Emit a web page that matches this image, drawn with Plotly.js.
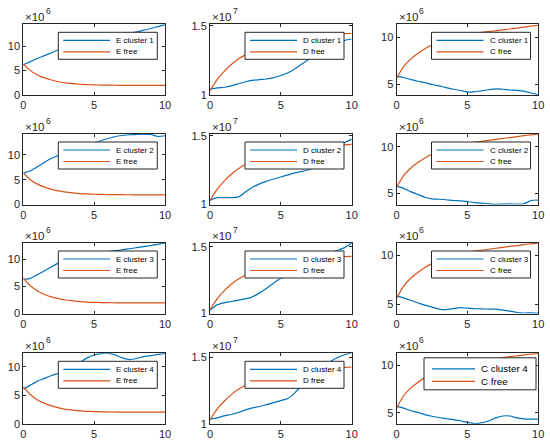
<!DOCTYPE html>
<html>
<head>
<meta charset="utf-8">
<script src="https://cdn.plot.ly/plotly-3.0.1.min.js"></script>
<style>
body { margin: 0; background: #fff; }
#plot { width: 550px; height: 446px; }
</style>
</head>
<body>
<div id="plot"></div>
<script>
// time axis shared by every panel
var t = [0,0.5,1,1.5,2,2.5,3,3.5,4,4.5,5,5.5,6,6.5,7,7.5,8,8.5,9,9.5,10];

// column 1, E (x10^6)
var eClus1 = [6.2,6.85,7.5,8.1,8.7,9.3,9.65,10.0,10.35,10.7,11.0,11.35,11.7,12.0,12.35,12.7,13.0,13.35,13.7,14.1,14.5];
var eClus2 = [6.3,6.8,7.6,8.5,9.3,9.9,10.4,10.9,11.4,11.9,12.4,12.9,13.3,13.7,13.9,14.05,14.1,14.15,14.1,13.7,13.85];
var eClus3 = [6.3,6.45,7.15,7.85,8.6,9.3,9.8,10.2,10.5,10.75,11.0,11.2,11.4,11.55,11.7,11.9,12.1,12.3,12.5,12.7,12.96];
var eClus4 = [6.1,6.8,7.5,8.0,8.5,8.9,9.4,10.0,10.8,11.6,12.1,12.35,12.4,12.1,11.6,11.3,11.5,11.8,12.0,12.2,12.4];
var eFree1 = [6.4,5.0,4.1,3.5,3.05,2.7,2.45,2.3,2.18,2.1,2.05,2.01,1.99,1.97,1.96,1.95,1.95,1.95,1.95,1.95,1.95];
var eFree2 = [6.35,5.0,4.1,3.5,3.05,2.75,2.5,2.33,2.2,2.12,2.06,2.02,2.0,1.98,1.97,1.96,1.95,1.95,1.95,1.95,1.95];
var eFree3 = [6.5,5.1,4.15,3.5,3.05,2.72,2.48,2.31,2.19,2.1,2.05,2.01,1.99,1.97,1.96,1.95,1.95,1.95,1.95,1.95,1.95];
var eFree4 = [6.5,5.15,4.2,3.6,3.15,2.8,2.55,2.4,2.28,2.2,2.15,2.11,2.09,2.07,2.06,2.05,2.05,2.05,2.05,2.05,2.05];

// column 2, D (x10^7)
var dClus1 = [1.04,1.05,1.055,1.065,1.08,1.095,1.105,1.11,1.115,1.125,1.14,1.16,1.19,1.225,1.26,1.295,1.33,1.36,1.38,1.395,1.405];
var dClus2 = [1.03,1.05,1.05,1.05,1.055,1.09,1.125,1.15,1.17,1.185,1.2,1.215,1.23,1.24,1.255,1.27,1.3,1.35,1.41,1.45,1.475];
var dClus3 = [1.025,1.065,1.08,1.09,1.1,1.11,1.125,1.155,1.19,1.23,1.265,1.285,1.31,1.34,1.37,1.4,1.43,1.455,1.475,1.495,1.53];
var dClus4 = [1.035,1.045,1.06,1.07,1.085,1.105,1.12,1.13,1.145,1.16,1.175,1.19,1.235,1.29,1.34,1.39,1.43,1.47,1.5,1.52,1.535];
var dFree1 = [1.03,1.11,1.17,1.22,1.26,1.29,1.315,1.335,1.35,1.365,1.378,1.39,1.40,1.408,1.415,1.422,1.43,1.435,1.44,1.444,1.447];
var dFree2 = [1.03,1.11,1.17,1.22,1.26,1.29,1.312,1.332,1.347,1.36,1.372,1.382,1.39,1.398,1.405,1.412,1.418,1.424,1.429,1.433,1.437];
var dFree3 = [1.03,1.11,1.17,1.22,1.26,1.288,1.31,1.33,1.345,1.357,1.368,1.378,1.386,1.394,1.401,1.407,1.413,1.418,1.423,1.427,1.43];
var dFree4 = [1.03,1.11,1.17,1.22,1.26,1.288,1.31,1.33,1.345,1.357,1.368,1.378,1.386,1.394,1.401,1.407,1.412,1.417,1.421,1.425,1.428];

// column 3, C (x10^6)
var cClus1 = [5.9,5.75,5.55,5.35,5.2,5.0,4.85,4.68,4.5,4.37,4.22,4.22,4.33,4.45,4.55,4.5,4.42,4.38,4.3,4.1,3.92];
var cClus2 = [5.78,5.55,5.2,4.9,4.6,4.42,4.38,4.33,4.25,4.2,4.12,4.03,3.97,3.88,3.84,3.86,3.88,3.87,3.9,4.25,4.3];
var cClus3 = [5.82,5.65,5.4,5.15,4.9,4.7,4.5,4.45,4.55,4.65,4.6,4.55,4.52,4.5,4.5,4.4,4.3,4.15,4.1,4.12,4.08];
var cClus4 = [5.72,5.5,5.25,5.05,4.82,4.65,4.52,4.4,4.3,4.18,4.0,3.88,3.95,4.15,4.48,4.68,4.68,4.48,4.38,4.35,4.35];
var cFree1 = [5.65,6.9,7.7,8.3,8.8,9.2,9.5,9.8,10.0,10.2,10.35,10.45,10.55,10.62,10.7,10.8,10.9,11.0,11.1,11.2,11.3];
var cFree2 = [5.64,6.9,7.7,8.3,8.8,9.2,9.5,9.8,10.0,10.2,10.35,10.47,10.58,10.68,10.78,10.88,10.98,11.08,11.18,11.27,11.36];
var cFree3 = [5.58,6.85,7.65,8.25,8.75,9.15,9.45,9.75,9.95,10.15,10.3,10.42,10.52,10.62,10.72,10.82,10.92,11.0,11.1,11.18,11.26];
var cFree4 = [5.47,6.8,7.6,8.2,8.7,9.1,9.42,9.72,9.93,10.13,10.28,10.4,10.5,10.6,10.7,10.8,10.9,10.98,11.08,11.17,11.25];

// tick labels
var xTicks = [0, 5, 10];
var eTicks = [0, 5, 10];
var dTicks = [1, 1.5];
var cTicks = [5, 10];

var letters = ['E', 'D', 'C'];
var exponents = ['6', '7', '6'];
var clusters = [[eClus1, eClus2, eClus3, eClus4], [dClus1, dClus2, dClus3, dClus4], [cClus1, cClus2, cClus3, cClus4]];
var frees = [[eFree1, eFree2, eFree3, eFree4], [dFree1, dFree2, dFree3, dFree4], [cFree1, cFree2, cFree3, cFree4]];
var yTicks = [eTicks, dTicks, cTicks];

// y limits per panel [col][row]
var yRanges = [
	[[0, 14.57], [0, 14.2], [0, 12.96], [0, 12.4]],
	[[1, 1.512], [1, 1.512], [1, 1.53], [1, 1.531]],
	[[3.91, 11.4], [3.82, 11.36], [4.05, 11.26], [3.86, 11.25]]
];

// pixel layout of the MATLAB figure
var W = 550, H = 446;
var colLeft = [23.3, 210, 396.5];
var colWidth = 141.7;
var rowTop = [24.3, 134, 243, 353.3];
var rowHeight = 70.5;

var blue = '#0072BD';
var orange = '#D95319';
var axisColor = '#262626';
var fontFam = 'Liberation Sans, Arial, sans-serif';

var data = [];
var layout = {
	width: W,
	height: H,
	margin: {l: 0, r: 0, t: 0, b: 0},
	paper_bgcolor: '#ffffff',
	plot_bgcolor: '#ffffff',
	showlegend: false,
	font: {family: fontFam, size: 11, color: axisColor},
	annotations: [],
	shapes: []
};

// legend box drawn like MATLAB's (offsets in px inside each axes)
function addLegend(sfx, names, big) {
	var xr = 'x' + sfx + ' domain', yr = 'y' + sfx + ' domain';
	var box = big ? {l: 27.5, r: 139.5, t: 4.5, h: 32, l0: 8, l1: 51, tx: 55, r1: 11, r2: 23.5, fs: 9.8}
	              : {l: 35, r: 134, t: 8, h: 27, l0: 5, l1: 52, tx: 56, r1: 8, r2: 19.5, fs: 8};
	var fx = function (px) { return px / colWidth; };
	var fy = function (px) { return 1 - px / rowHeight; };
	layout.shapes.push({
		type: 'rect', xref: xr, yref: yr,
		x0: fx(box.l), x1: fx(box.r), y0: fy(box.t + box.h), y1: fy(box.t),
		fillcolor: '#ffffff', line: {color: axisColor, width: 1}, layer: 'above'
	});
	var rows = [box.r1, box.r2];
	var cols = [blue, orange];
	for (var i = 0; i < 2; i++) {
		layout.shapes.push({
			type: 'line', xref: xr, yref: yr,
			x0: fx(box.l + box.l0), x1: fx(box.l + box.l1),
			y0: fy(box.t + rows[i]), y1: fy(box.t + rows[i]),
			line: {color: cols[i], width: 1.2}, layer: 'above'
		});
		layout.annotations.push({
			xref: xr, yref: yr,
			x: fx(box.l + box.tx), y: fy(box.t + rows[i]),
			xanchor: 'left', yanchor: 'middle',
			text: names[i], showarrow: false,
			font: {family: fontFam, size: box.fs, color: '#000000'}
		});
	}
}

for (var r = 0; r < 4; r++) {
	for (var c = 0; c < 3; c++) {
		var k = r * 3 + c + 1;
		var sfx = k > 1 ? String(k) : '';
		var big = (r === 3 && c === 2);
		var nameC = letters[c] + ' cluster ' + (r + 1);
		var nameF = letters[c] + ' free';

		data.push({
			x: t, y: clusters[c][r],
			xaxis: 'x' + sfx, yaxis: 'y' + sfx,
			name: nameC,
			mode: 'lines',
			line: {color: blue, width: 1.2, shape: 'spline', smoothing: 0.6}
		});
		data.push({
			x: t, y: frees[c][r],
			xaxis: 'x' + sfx, yaxis: 'y' + sfx,
			name: nameF,
			mode: 'lines',
			line: {color: orange, width: 1.2, shape: 'spline', smoothing: 0.6}
		});

		var axBase = {
			showline: true,
			mirror: 'ticks',
			linecolor: axisColor,
			linewidth: 1,
			ticks: 'inside',
			ticklen: 3,
			tickwidth: 1,
			tickcolor: axisColor,
			showgrid: false,
			zeroline: false,
			tickfont: {family: fontFam, size: 11, color: axisColor}
		};

		layout['xaxis' + sfx] = Object.assign({}, axBase, {
			anchor: 'y' + sfx,
			domain: [colLeft[c] / W, (colLeft[c] + colWidth) / W],
			range: [0, 10],
			tickvals: xTicks,
			ticktext: xTicks.map(String)
		});
		layout['yaxis' + sfx] = Object.assign({}, axBase, {
			anchor: 'x' + sfx,
			domain: [1 - (rowTop[r] + rowHeight) / H, 1 - rowTop[r] / H],
			range: yRanges[c][r],
			tickvals: yTicks[c],
			ticktext: yTicks[c].map(String)
		});

		addLegend(sfx, [nameC, nameF], big);

		// "x10" with its exponent, as MATLAB puts above the y axis
		layout.annotations.push({
			xref: 'x' + sfx + ' domain', yref: 'y' + sfx + ' domain',
			x: 0, y: 1, xanchor: 'left', yanchor: 'bottom', yshift: -1,
			text: '\u00d710', showarrow: false,
			font: {family: fontFam, size: 11.5, color: axisColor}
		});
		layout.annotations.push({
			xref: 'x' + sfx + ' domain', yref: 'y' + sfx + ' domain',
			x: 0, y: 1, xanchor: 'left', yanchor: 'bottom', xshift: 20.5, yshift: 6,
			text: exponents[c], showarrow: false,
			font: {family: fontFam, size: 8.5, color: axisColor}
		});
	}
}

Plotly.newPlot('plot', data, layout, {staticPlot: true});
</script>
</body>
</html>
